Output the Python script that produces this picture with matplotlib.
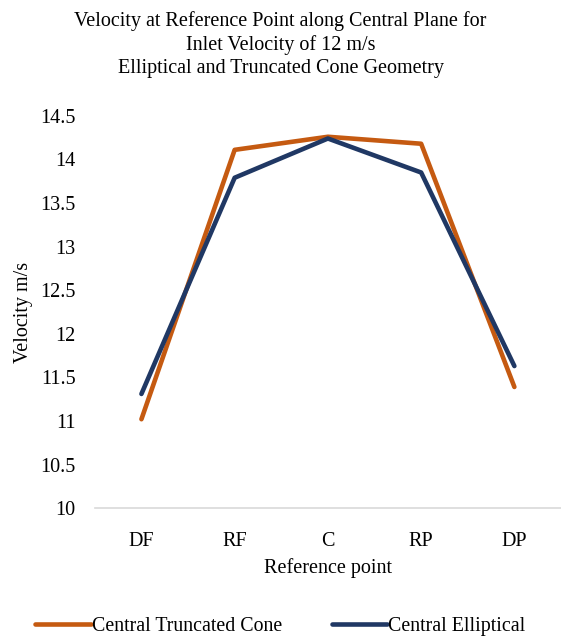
import matplotlib.pyplot as plt

plt.rcParams['font.family'] = ['Liberation Serif', 'DejaVu Serif']

points = ['DF', 'RF', 'C', 'RP', 'DP']
truncated_cone = [11.02, 14.11, 14.26, 14.18, 11.39]
elliptical = [11.31, 13.79, 14.24, 13.85, 11.63]
y_ticks = [10, 10.5, 11, 11.5, 12, 12.5, 13, 13.5, 14, 14.5]

fig = plt.figure(figsize=(5.61, 6.4), dpi=100)
ax = fig.add_axes([0.169, 0.206, 0.831, 0.613])

x = range(len(points))
ax.plot(x, truncated_cone, color='#C55A11', lw=3.3, solid_capstyle='round',
        label='Central Truncated Cone')
ax.plot(x, elliptical, color='#203864', lw=3.3, solid_capstyle='round',
        label='Central Elliptical')

ax.set_xlim(-0.5, len(points) - 0.5)
ax.set_ylim(10, 14.5)
ax.set_xticks(list(x))
ax.set_xticklabels(points)
ax.set_yticks(y_ticks)
ax.set_yticklabels([f'{v:g}' for v in y_ticks])
ax.tick_params(axis='x', length=0, labelsize=14.5, pad=17)
ax.tick_params(axis='y', length=0, labelsize=14.5, pad=14)

for side in ['top', 'right', 'left']:
    ax.spines[side].set_visible(False)
ax.spines['bottom'].set_color('#D9D9D9')
ax.spines['bottom'].set_linewidth(1.2)

ax.set_xlabel('Reference point', fontsize=14.5, labelpad=5)
ax.set_ylabel('Velocity m/s', fontsize=14.5, labelpad=5)

fig.suptitle('Velocity at Reference Point along Central Plane for\n'
             'Inlet Velocity of 12 m/s\n'
             'Elliptical and Truncated Cone Geometry',
             fontsize=14.5, y=0.983, linespacing=1.28)

fig.legend(loc='lower center', bbox_to_anchor=(0.5, -0.022), ncol=2,
           frameon=False, fontsize=14.3, handlelength=2.8, handletextpad=0.05,
           columnspacing=2.5)

fig.savefig('out.png', dpi=100)
